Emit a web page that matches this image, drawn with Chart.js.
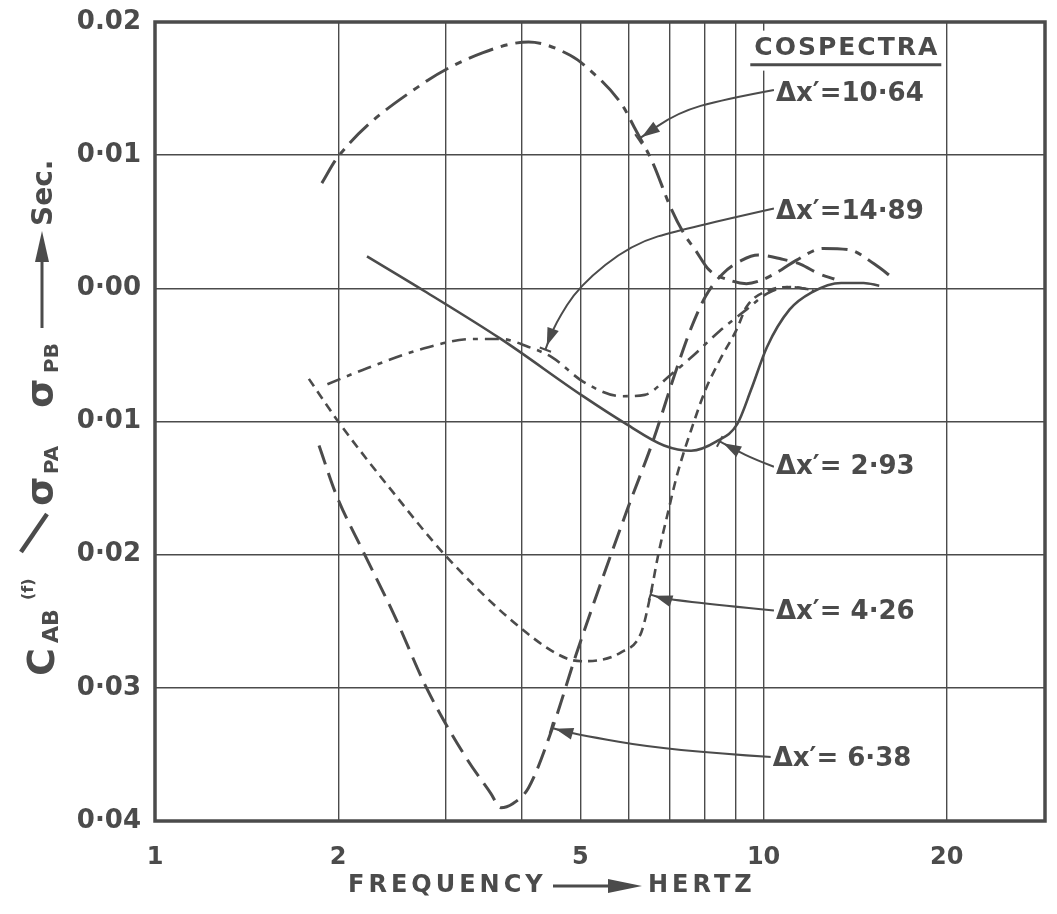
<!DOCTYPE html>
<html>
<head>
<meta charset="utf-8">
<title>Cospectra</title>
<script src="https://cdn.jsdelivr.net/npm/chart.js@4.4.1/dist/chart.umd.min.js"></script>
<style>
  html, body { margin: 0; padding: 0; background: #fff; }
  #wrap { width: 1057px; height: 914px; }
</style>
</head>
<body>
<div id="wrap"><canvas id="chart" width="1057" height="914"></canvas></div>
<script>
const INK  = '#4b4b4b';
const FONT = '"DejaVu Sans", sans-serif';

// --- Data (frequency in Hz, cospectrum in sec; below the 0.00 line is negative) ---
const f1064 = [1.88, 2.0, 2.74, 3.46, 4.11, 4.81, 5.12, 5.85, 6.13, 6.58, 7.03, 7.42, 7.72, 8.13, 8.81, 9.37, 9.9, 10.7, 11.31, 12.53, 13.82, 15.23, 16.38];
const c1064 = [0.0079, 0.0099, 0.0153, 0.0177, 0.0185, 0.0175, 0.0166, 0.0138, 0.0121, 0.0094, 0.0061, 0.0040, 0.0029, 0.0014, 0.0006, 0.00035, 0.0006, 0.0014, 0.0021, 0.0030, 0.0029, 0.0018, 0.0007];

const f1489 = [1.92, 2.23, 2.77, 3.33, 3.70, 4.11, 4.50, 5.05, 5.85, 6.38, 7.03, 7.60, 8.47, 9.37, 10.13, 11.03, 12.0];
const c1489 = [-0.0072, -0.0060, -0.0045, -0.0038, -0.0038, -0.0044, -0.0052, -0.0070, -0.0081, -0.0080, -0.0065, -0.0052, -0.0032, -0.0016, -0.0004, 0.0001, -0.0001];

const f293 = [2.23, 2.77, 3.70, 5.05, 5.95, 6.86, 7.60, 8.37, 9.05, 9.54, 10.13, 11.03, 12.0, 13.41, 14.60, 15.49];
const c293 = [0.0024, -0.0002, -0.0038, -0.0081, -0.0102, -0.0118, -0.0122, -0.0115, -0.0102, -0.0076, -0.0044, -0.0016, -0.0003, 0.0004, 0.0004, 0.0002];

const f426 = [1.79, 2.015, 2.44, 3.02, 4.01, 4.75, 5.05, 5.85, 6.30, 6.52, 6.72, 6.95, 7.22, 7.66, 8.03, 8.47, 9.05, 9.37, 10.13, 11.2, 12.1];
const c426 = [-0.0068, -0.0102, -0.0151, -0.0202, -0.0256, -0.0278, -0.0280, -0.0273, -0.0258, -0.0230, -0.0199, -0.0170, -0.0139, -0.0102, -0.0076, -0.0054, -0.0030, -0.0014, -0.0002, 0.0001, -0.0002];

const f638 = [1.86, 1.985, 2.20, 2.47, 2.80, 3.24, 3.56, 3.70, 3.87, 4.11, 4.50, 4.92, 5.95, 6.60, 7.14, 7.60, 8.03, 8.57, 9.20, 9.80, 10.7, 11.51, 12.32, 13.07];
const c638 = [-0.0118, -0.0155, -0.0198, -0.0245, -0.0301, -0.0352, -0.0379, -0.0390, -0.0387, -0.0375, -0.0330, -0.0275, -0.0168, -0.0113, -0.0065, -0.0030, -0.0006, 0.0011, 0.0021, 0.0025, 0.0022, 0.0018, 0.0011, 0.0007];

const xTicks      = [1, 2, 3, 4, 5, 6, 7, 8, 9, 10, 20];
const xTickLabels = [1, 2, 5, 10, 20];

// labels with leader arrows, in data units: label anchor, then arrow path ending at the curve
const notes = [
  { text: 'Δx′=10·64', at: [10.48, 0.0146],  path: [[10.4, 0.0149], [8.6, 0.0142], [7.22, 0.0132], [6.23, 0.0112]] },
  { text: 'Δx′=14·89', at: [10.48, 0.0057],  path: [[10.4, 0.0060], [7.42, 0.0045], [6.06, 0.0033], [4.98, 0.0002], [4.54, -0.0027], [4.38, -0.0046]] },
  { text: 'Δx′= 2·93', at: [10.48, -0.0134], path: [[10.4, -0.0134], [9.63, -0.0128], [9.05, -0.0122], [8.47, -0.0115]] },
  { text: 'Δx′= 4·26', at: [10.48, -0.0243], path: [[10.4, -0.0242], [6.95, -0.0234], [6.52, -0.0230]] },
  { text: 'Δx′= 6·38', at: [10.35, -0.0354], path: [[10.3, -0.0352], [6.95, -0.0347], [4.81, -0.0334], [4.48, -0.0330]] },
];
const titleAt = [13.7, 0.0180];

// --- Helpers ---
function pts(fs, cs) {
  return fs.map((f, i) => ({ x: f, y: cs[i] }));
}

function curve(label, fs, cs, dash, width) {
  return {
    label,
    data: pts(fs, cs),
    borderColor: INK,
    borderWidth: width,
    borderDash: dash,
    pointRadius: 0,
    cubicInterpolationMode: 'monotone',
    fill: false,
  };
}

function arrowHead(ctx, tip, from, len, half, bar) {
  let dx = tip[0] - from[0], dy = tip[1] - from[1];
  const d = Math.hypot(dx, dy) || 1;
  dx /= d; dy /= d;
  const nx = -dy, ny = dx;
  ctx.beginPath();
  ctx.moveTo(tip[0] - dx * 4, tip[1] - dy * 4);
  ctx.lineTo(tip[0] - dx * len + nx * half, tip[1] - dy * len + ny * half);
  ctx.lineTo(tip[0] - dx * len - nx * half, tip[1] - dy * len - ny * half);
  ctx.closePath();
  ctx.fill();
  if (bar) {
    ctx.beginPath();
    ctx.moveTo(tip[0] + nx * bar, tip[1] + ny * bar);
    ctx.lineTo(tip[0] - nx * bar, tip[1] - ny * bar);
    ctx.stroke();
  }
}

function rotText(ctx, text, size, bx, sy) {
  ctx.save();
  ctx.translate(bx, sy);
  ctx.rotate(-Math.PI / 2);
  ctx.font = 'bold ' + size + 'px ' + FONT;
  ctx.textAlign = 'left';
  ctx.textBaseline = 'alphabetic';
  ctx.fillText(text, 0, 0);
  ctx.restore();
}

// --- Frame, notes and axis titles ---
const decorations = {
  id: 'decorations',
  afterDraw(chart) {
    const { ctx, chartArea: a, scales: { x, y } } = chart;
    const px = (p) => [x.getPixelForValue(p[0]), y.getPixelForValue(p[1])];
    ctx.save();

    ctx.strokeStyle = INK;
    ctx.lineWidth = 3.5;
    ctx.strokeRect(a.left, a.top, a.right - a.left, a.bottom - a.top);

    // leader arrows
    ctx.fillStyle = INK;
    ctx.lineWidth = 2;
    notes.forEach(n => {
      const p = n.path.map(px);
      ctx.beginPath();
      ctx.moveTo(p[0][0], p[0][1]);
      for (let i = 1; i < p.length - 1; i++) {
        const mx = (p[i][0] + p[i + 1][0]) / 2, my = (p[i][1] + p[i + 1][1]) / 2;
        ctx.quadraticCurveTo(p[i][0], p[i][1], mx, my);
      }
      ctx.lineTo(p[p.length - 1][0], p[p.length - 1][1]);
      ctx.stroke();
      arrowHead(ctx, p[p.length - 1], p[p.length - 2], 22, 6, 6);
    });

    // labels
    ctx.font = 'bold 26px ' + FONT;
    ctx.textBaseline = 'middle';
    ctx.textAlign = 'left';
    notes.forEach(n => {
      const [lx, ly] = px(n.at);
      const w = ctx.measureText(n.text).width;
      ctx.fillStyle = '#fff';
      ctx.fillRect(lx - 2, ly - 16, w + 6, 32);
      ctx.fillStyle = INK;
      ctx.fillText(n.text, lx, ly);
    });

    const [tx, ty] = px(titleAt);
    ctx.font = 'bold 25px ' + FONT;
    ctx.letterSpacing = '2px';
    ctx.textAlign = 'center';
    const tw = ctx.measureText('COSPECTRA').width;
    ctx.fillStyle = '#fff';
    ctx.fillRect(tx - tw / 2 - 4, ty - 18, tw + 8, 40);
    ctx.fillStyle = INK;
    ctx.fillText('COSPECTRA', tx, ty);
    ctx.lineWidth = 3;
    ctx.beginPath();
    ctx.moveTo(tx - tw / 2 - 4, ty + 16);
    ctx.lineTo(tx + tw / 2 + 2, ty + 16);
    ctx.stroke();
    ctx.letterSpacing = '0px';

    // x-axis title
    ctx.font = 'bold 24px ' + FONT;
    ctx.textAlign = 'left';
    ctx.letterSpacing = '4px';
    ctx.fillText('FREQUENCY', 348, 886);
    ctx.fillText('HERTZ', 648, 886);
    ctx.letterSpacing = '0px';
    ctx.lineWidth = 3;
    ctx.beginPath();
    ctx.moveTo(553, 886);
    ctx.lineTo(615, 886);
    ctx.stroke();
    ctx.beginPath();
    ctx.moveTo(642, 886);
    ctx.lineTo(608, 879);
    ctx.lineTo(608, 893);
    ctx.closePath();
    ctx.fill();

    // y-axis title, read bottom to top
    rotText(ctx, 'C', 38, 54, 676);
    rotText(ctx, 'AB', 22, 58, 643);
    rotText(ctx, '(f)', 16, 33, 600);
    ctx.lineWidth = 4.5;
    ctx.beginPath();
    ctx.moveTo(21, 552);
    ctx.lineTo(47, 514);
    ctx.stroke();
    rotText(ctx, 'σ', 38, 52, 506);
    rotText(ctx, 'PA', 20, 58, 474);
    rotText(ctx, 'σ', 38, 52, 408);
    rotText(ctx, 'PB', 20, 58, 373);
    ctx.lineWidth = 3;
    ctx.beginPath();
    ctx.moveTo(42, 328);
    ctx.lineTo(42, 255);
    ctx.stroke();
    ctx.beginPath();
    ctx.moveTo(42, 231);
    ctx.lineTo(35, 262);
    ctx.lineTo(49, 262);
    ctx.closePath();
    ctx.fill();
    rotText(ctx, 'Sec.', 28, 52, 226);

    ctx.restore();
  }
};

// --- Chart ---
new Chart(document.getElementById('chart'), {
  type: 'line',
  data: {
    datasets: [
      curve('Δx′=10.64', f1064, c1064, [26, 8, 7, 8], 3),
      curve('Δx′=14.89', f1489, c1489, [14, 7, 5, 7], 2.6),
      curve('Δx′=2.93',  f293,  c293,  [], 2.6),
      curve('Δx′=4.26',  f426,  c426,  [9, 6], 2.6),
      curve('Δx′=6.38',  f638,  c638,  [20, 9], 3),
    ]
  },
  options: {
    responsive: false,
    animation: false,
    layout: { padding: { top: 22, right: 12, left: 0, bottom: 0 } },
    plugins: { legend: { display: false }, tooltip: { enabled: false } },
    scales: {
      x: {
        type: 'logarithmic',
        min: 1,
        max: 29,
        afterBuildTicks: (s) => { s.ticks = xTicks.map(v => ({ value: v })); },
        afterFit: (s) => { s.height = 93; s.paddingLeft = 0; s.paddingRight = 0; },
        grid: { color: INK, lineWidth: 1.4, drawTicks: false },
        border: { display: false },
        ticks: {
          autoSkip: false,
          maxRotation: 0,
          padding: 22,
          color: INK,
          font: { family: FONT, size: 24, weight: 'bold' },
          callback: (v) => xTickLabels.includes(v) ? String(v) : '',
        },
      },
      y: {
        type: 'linear',
        min: -0.04,
        max: 0.02,
        afterFit: (s) => { s.width = 155; s.paddingTop = 0; s.paddingBottom = 0; },
        grid: { color: INK, lineWidth: 1.4, drawTicks: false },
        border: { display: false },
        ticks: {
          stepSize: 0.01,
          padding: 14,
          color: INK,
          font: { family: FONT, size: 26, weight: 'bold' },
          callback: (v) => {
            const s = Math.abs(v).toFixed(2);
            return v > 0.015 ? s : s.replace('.', '·');
          },
        },
      },
    },
  },
  plugins: [decorations],
});
</script>
</body>
</html>
